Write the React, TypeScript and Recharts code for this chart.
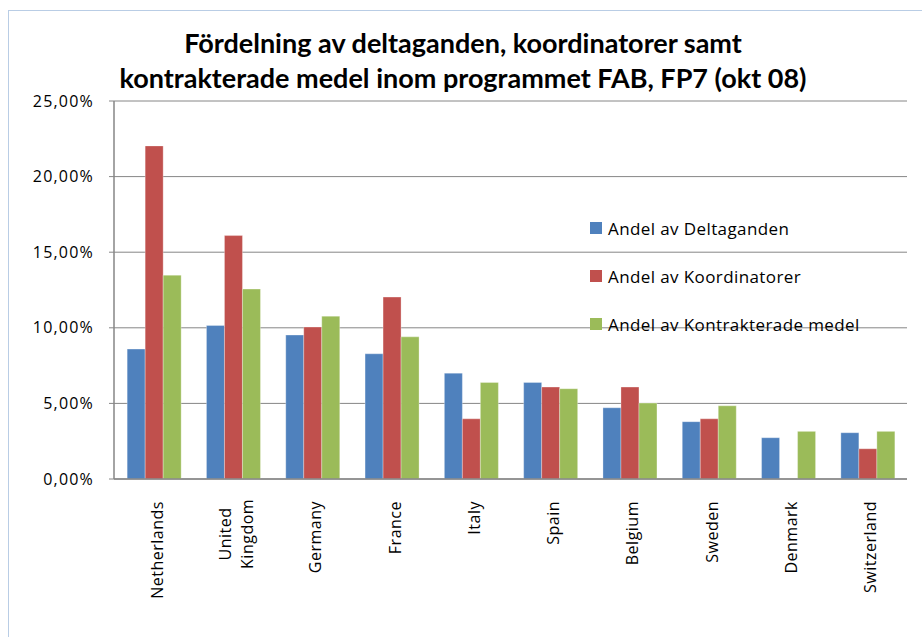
import { BarChart, Bar, XAxis, YAxis, CartesianGrid } from 'recharts';

const countries = [
  'Netherlands',
  'United\nKingdom',
  'Germany',
  'France',
  'Italy',
  'Spain',
  'Belgium',
  'Sweden',
  'Denmark',
  'Switzerland',
];

// values in percent
const deltaganden = [8.59, 10.15, 9.52, 8.28, 7.0, 6.38, 4.71, 3.79, 2.73, 3.06];
const koordinatorer = [22.03, 16.1, 10.05, 12.03, 3.98, 6.08, 6.08, 3.98, 0, 2.0];
const kontrakterade = [13.48, 12.56, 10.77, 9.4, 6.38, 5.97, 5.02, 4.84, 3.15, 3.15];

const yTicks = [0, 5, 10, 15, 20, 25];

const seriesNames = ['Andel av Deltaganden', 'Andel av Koordinatorer', 'Andel av Kontrakterade medel'];
const colors = ['#4F81BD', '#C0504D', '#9BBB59'];

const data = countries.map((c, i) => ({
  country: c,
  deltaganden: deltaganden[i],
  koordinatorer: koordinatorer[i],
  kontrakterade: kontrakterade[i],
}));

const axisColor = '#868686';
const labelFont = '"Open Sans", sans-serif';

const formatPct = (v: number) => v.toFixed(2).replace('.', ',') + '%';

const XTick = ({ x, y, payload }: any) => {
  const lines = String(payload.value).split('\n');
  const multi = lines.length > 1;
  const maxLen = Math.max(...lines.map((l) => l.length));
  const lh = 22;
  return (
    <g transform={`translate(${x + 3},${y + 22}) rotate(-90)`}>
      {lines.map((l, i) => (
        <text
          key={i}
          x={multi ? -maxLen * 4.7 : 0}
          y={(i - (lines.length - 1) / 2) * lh}
          textAnchor={multi ? 'middle' : 'end'}
          dominantBaseline="central"
          fill="#000"
          fontSize={16}
          fontFamily={labelFont}
          letterSpacing={0.5}
        >
          {l}
        </text>
      ))}
    </g>
  );
};

export default function App() {
  return (
    <div style={{ position: 'absolute', left: 0, top: 0, width: 922, height: 637, background: '#fff', overflow: 'hidden' }}>
      <div
        style={{
          position: 'absolute',
          left: 8,
          top: 10,
          width: 940,
          height: 660,
          border: '1.5px solid #B9CDE5',
        }}
      />
      <BarChart
        width={922}
        height={637}
        data={data}
        margin={{ top: 101, right: 15, bottom: 8, left: 0 }}
        barCategoryGap="16.6%"
        barGap={0}
        style={{ position: 'absolute', left: 0, top: 0 }}
      >
        <CartesianGrid vertical={false} stroke={axisColor} strokeWidth={1} />
        <XAxis
          dataKey="country"
          height={150}
          interval={0}
          tick={<XTick />}
          tickLine={false}
          tickSize={0}
          tickMargin={0}
          axisLine={{ stroke: axisColor, strokeWidth: 1.5 }}
        />
        <YAxis
          width={114}
          domain={[0, 25]}
          ticks={yTicks}
          tickFormatter={formatPct}
          tickSize={5}
          tickMargin={15}
          tickLine={{ stroke: axisColor }}
          axisLine={{ stroke: axisColor, strokeWidth: 1.5 }}
          tick={{ fill: '#000', fontSize: 16, fontFamily: labelFont, letterSpacing: 1.2 }}
        />
        <Bar dataKey="deltaganden" name={seriesNames[0]} fill={colors[0]} stroke="#ffffff" strokeOpacity={0.5} strokeWidth={0.6} isAnimationActive={false} />
        <Bar dataKey="koordinatorer" name={seriesNames[1]} fill={colors[1]} stroke="#ffffff" strokeOpacity={0.5} strokeWidth={0.6} isAnimationActive={false} />
        <Bar dataKey="kontrakterade" name={seriesNames[2]} fill={colors[2]} stroke="#ffffff" strokeOpacity={0.5} strokeWidth={0.6} isAnimationActive={false} />
      </BarChart>
      <div
        style={{
          position: 'absolute',
          left: 0,
          top: 25,
          width: 926,
          textAlign: 'center',
          fontFamily: 'Lato, sans-serif',
          fontWeight: 700,
          fontSize: 27,
          lineHeight: '35px',
          color: '#000',
        }}
      >
        Fördelning av deltaganden, koordinatorer samt
        <br />
        kontrakterade medel inom programmet FAB, FP7 (okt 08)
      </div>
      <div style={{ position: 'absolute', left: 590, top: 204, fontFamily: labelFont, fontSize: 17, color: '#000' }}>
        {seriesNames.map((n, i) => (
          <div key={n} style={{ display: 'flex', alignItems: 'center', height: 48 }}>
            <span style={{ width: 12, height: 12, background: colors[i], marginRight: 6, display: 'inline-block' }} />
            <span style={{ letterSpacing: 0.4 }}>{n}</span>
          </div>
        ))}
      </div>
    </div>
  );
}
